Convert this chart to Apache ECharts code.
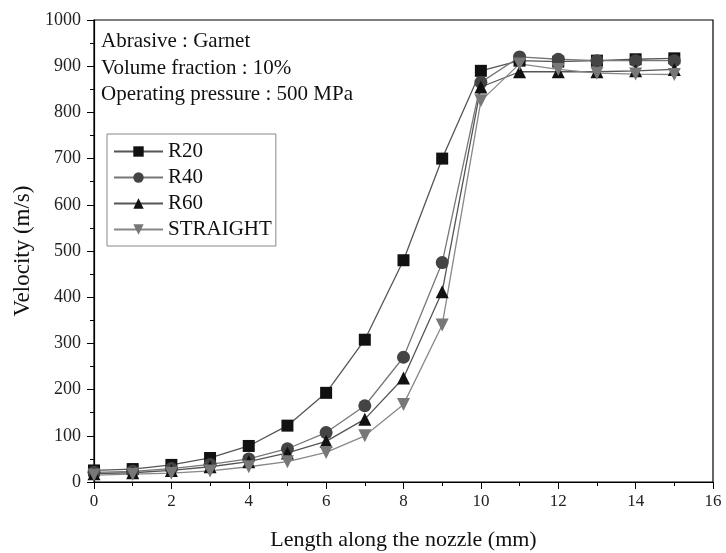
<!DOCTYPE html>
<html><head><meta charset="utf-8">
<script src="https://cdn.jsdelivr.net/npm/echarts@6/dist/echarts.min.js"></script>
<style>html,body{margin:0;padding:0;background:#fff}#c{width:726px;height:553px}</style>
</head><body><div id="c"></div>
<script>
const xValues = [0,1,2,3,4,5,6,7,8,9,10,11,12,13,14,15];
const r20 = [25,28,37,52,78,122,193,308,480,700,890,912,910,912,915,917];
const r40 = [21,23,29,38,50,72,107,165,270,475,865,920,915,912,912,912];
const r60 = [18,20,25,33,44,63,88,136,225,412,855,888,888,888,890,893];
const straight = [15,17,19,24,33,44,64,100,168,340,825,905,893,885,883,882];
const seriesNames = ['R20','R40','R60','STRAIGHT'];
const notes = ['Abrasive : Garnet','Volume fraction : 10%','Operating pressure : 500 MPa'];

const font = '"Liberation Serif", "DejaVu Serif", serif';
function pairs(a){ return xValues.map((x,i)=>[x,a[i]]); }
const defs = [
  {name:seriesNames[0], data:r20, symbol:'rect', size:12, color:'#111', line:'#555'},
  {name:seriesNames[1], data:r40, symbol:'circle', size:13, color:'#444', line:'#777'},
  {name:seriesNames[2], data:r60, symbol:'triangle', size:13, color:'#111', line:'#555'},
  {name:seriesNames[3], data:straight, symbol:'path://M0,0 L10,0 L5,9 Z', size:13, color:'#777', line:'#888'}
];
const chart = echarts.init(document.getElementById('c'));
chart.setOption({
  animation:false,
  backgroundColor:'#fff',
  grid:{left:94, right:13, top:20, bottom:71, show:true, borderColor:'#000', borderWidth:1.2,
    containLabel:false, outerBoundsMode:'none'},
  xAxis:{type:'value', min:0, max:16, interval:2,
    name:'Length along the nozzle (mm)', nameLocation:'middle', nameGap:47,
    nameTextStyle:{fontFamily:font, fontSize:22, color:'#111'},
    axisLine:{lineStyle:{color:'#000', width:1.2}},
    axisTick:{inside:false, length:7, lineStyle:{color:'#000'}},
    minorTick:{show:true, splitNumber:2, length:4, lineStyle:{color:'#000'}},
    splitLine:{show:false},
    axisLabel:{fontFamily:font, fontSize:17, color:'#222', margin:11}},
  yAxis:{type:'value', min:0, max:1000, interval:100,
    name:'Velocity (m/s)', nameLocation:'middle', nameGap:56,
    nameTextStyle:{fontFamily:font, fontSize:23, color:'#111'},
    axisLine:{show:true, lineStyle:{color:'#000', width:1.2}},
    axisTick:{show:true, inside:false, length:7, lineStyle:{color:'#000'}},
    minorTick:{show:true, splitNumber:2, length:4, lineStyle:{color:'#000'}},
    splitLine:{show:false},
    axisLabel:{fontFamily:font, fontSize:18, color:'#222', margin:13, formatter:v=>String(v)}},
  legend:{orient:'vertical', left:107, top:134, itemGap:5, itemWidth:49, itemHeight:13,
    padding:[7,4,6,6], borderColor:'#888', borderWidth:1, backgroundColor:'#fff',
    textStyle:{fontFamily:font, fontSize:21, color:'#111', lineHeight:21},
    data:seriesNames},
  graphic: notes.map((t,i)=>({type:'text', left:101, top:31+i*26.5,
    style:{text:t, font:'21px '+font, fill:'#111'}})),
  series: defs.map(d=>({name:d.name, type:'line', data:pairs(d.data), symbol:d.symbol,
    symbolSize:d.size, itemStyle:{color:d.color}, lineStyle:{color:d.line, width:1.3},
    z: 3}))
});
</script></body></html>
